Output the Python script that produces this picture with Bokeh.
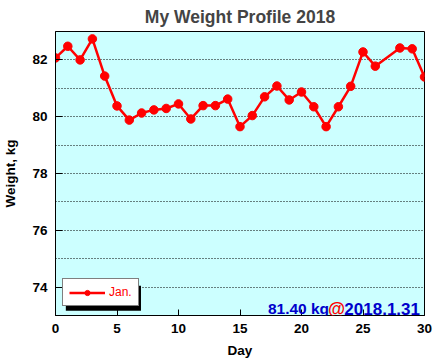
from bokeh.plotting import figure
from bokeh.models import Range1d, FixedTicker, Label, Legend, LegendItem, BoxAnnotation
from bokeh.embed import file_html
from bokeh.resources import INLINE

# ---- data ----
days = [0, 1, 2, 3, 4, 5, 6, 7, 8, 9, 10, 11, 12, 13, 14, 15, 16, 17, 18, 19,
        20, 21, 22, 23, 24, 25, 26, 28, 29, 30]
weights = [82.07, 82.48, 82.00, 82.74, 81.43, 80.38, 79.88, 80.13, 80.24, 80.29,
           80.45, 79.92, 80.39, 80.39, 80.62, 79.65, 80.04, 80.70, 81.08, 80.59,
           80.87, 80.35, 79.65, 80.35, 81.07, 82.28, 81.78, 82.42, 82.39, 81.40]
x_ticks = [0, 5, 10, 15, 20, 25, 30]
y_ticks = [74, 76, 78, 80, 82]
y_grid = [74, 75, 76, 77, 78, 79, 80, 81, 82]
series_name = "Jan."
last_value_text = "81.40 kg"
last_date_text = "2018.1.31"

FONT = "Liberation Sans"

p = figure(frame_width=369, frame_height=284, output_backend="svg", toolbar_location=None,
           x_range=Range1d(0, 30), y_range=Range1d(73, 83),
           min_border_left=55, min_border_right=12, min_border_top=31, min_border_bottom=48)
p.background_fill_color = "#CCFFFF"
p.border_fill_color = "white"
p.outline_line_color = "black"
p.outline_line_width = 1

p.title.text = "My Weight Profile 2018"
p.title.text_font = FONT
p.title.text_font_size = "17.5px"
p.title.text_font_style = "bold"
p.title.align = "center"
p.title.standoff = 9
p.title.offset = 0

for ax in (p.xaxis[0], p.yaxis[0]):
    ax.axis_line_color = "black"
    ax.major_tick_line_color = "black"
    ax.minor_tick_line_color = None
    ax.major_tick_out = 0
    ax.major_label_text_font = FONT
    ax.major_label_text_font_style = "bold"
    ax.major_label_text_font_size = "13.5px"
    ax.major_label_text_color = "black"
    ax.axis_label_text_font = FONT
    ax.axis_label_text_font_style = "bold"
    ax.axis_label_text_font_size = "13.5px"
    ax.axis_label_text_color = "black"

p.xaxis.ticker = FixedTicker(ticks=x_ticks)
p.yaxis.ticker = FixedTicker(ticks=y_ticks)
p.xaxis.major_tick_in = 6
p.yaxis.major_tick_in = 7
p.xaxis.major_label_standoff = 8
p.yaxis.major_label_standoff = 8
p.xaxis.axis_label = "Day"
p.yaxis.axis_label = "Weight, kg"
p.xaxis.axis_label_standoff = 7
p.yaxis.axis_label_standoff = 11

p.xgrid.grid_line_color = None
p.ygrid.ticker = FixedTicker(ticks=y_grid)
p.ygrid.grid_line_color = "black"
p.ygrid.grid_line_dash = "1 2"
p.ygrid.grid_line_width = 1

ln = p.line(days, weights, line_color="red", line_width=2.5)
pts = p.scatter(days, weights, size=8.5, color="red")

# legend shadow
shadow = BoxAnnotation(left=0.84, right=6.95, bottom=73.17, top=74.05,
                       fill_color="black", fill_alpha=1, line_color=None)
p.add_layout(shadow)

legend = Legend(items=[LegendItem(label=series_name, renderers=[ln, pts])],
                location=(7, 9), glyph_width=36, glyph_height=13, padding=6,
                margin=0, label_standoff=4, label_text_font=FONT,
                label_text_font_size="12px", label_text_color="red",
                border_line_color="black", border_line_width=1,
                background_fill_color="white", background_fill_alpha=1)
p.add_layout(legend, "center")

common = dict(x=30, y=73, y_offset=7, text_font=FONT,
              text_font_style="bold", text_baseline="alphabetic")
p.add_layout(Label(text=last_date_text, x_offset=-4.5, text_align="right",
                   text_font_size="17px", text_color="#0000CC", **common))
p.add_layout(Label(text="@", x_offset=-88, text_align="center",
                   text_font_size="17.5px", text_color="red", **common))
p.add_layout(Label(text=last_value_text, x_offset=-126, text_align="center",
                   text_font_size="15.5px", text_color="#0000CC", **common))

open("out.html", "w").write(file_html(p, INLINE))
